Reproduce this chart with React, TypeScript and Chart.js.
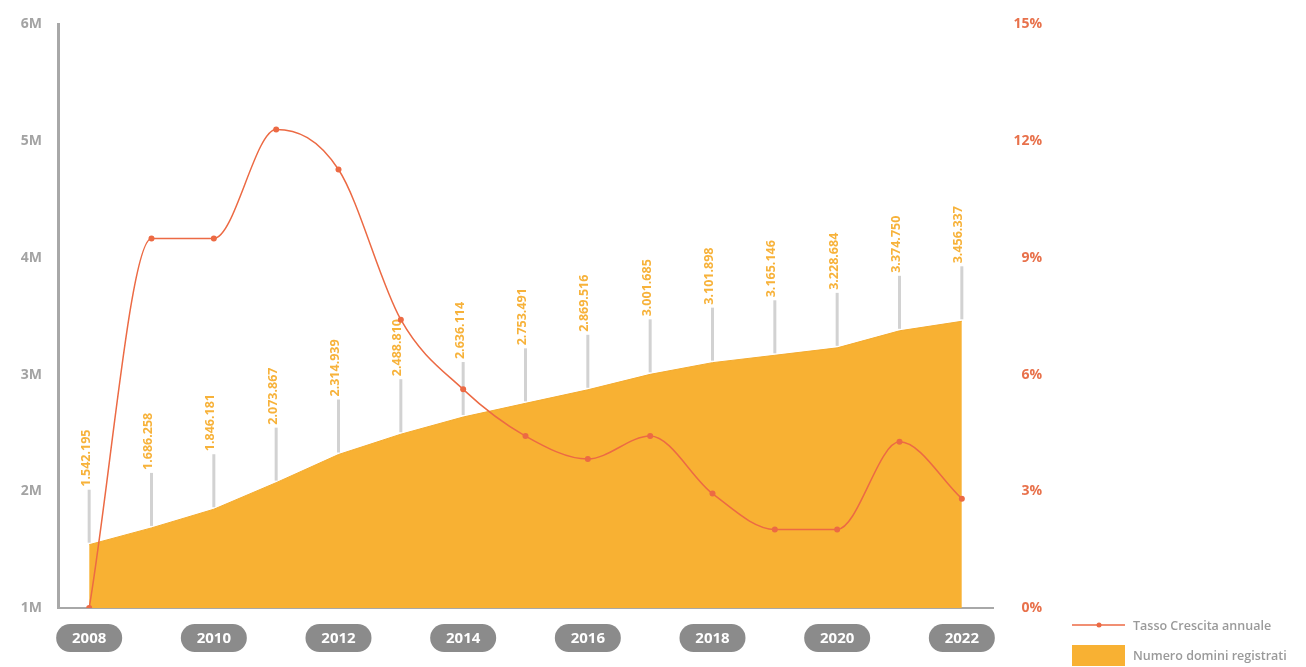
import React, { useEffect, useRef } from "react";
import { Chart, registerables } from "chart.js";
Chart.register(...registerables);

const years = ["2008", "2009", "2010", "2011", "2012", "2013", "2014", "2015", "2016", "2017", "2018", "2019", "2020", "2021", "2022"];
const domainCounts = [1542195, 1686258, 1846181, 2073867, 2314939, 2488810, 2636114, 2753491, 2869516, 3001685, 3101898, 3165146, 3228684, 3374750, 3456337];
const domainLabels = ["1.542.195", "1.686.258", "1.846.181", "2.073.867", "2.314.939", "2.488.810", "2.636.114", "2.753.491", "2.869.516", "3.001.685", "3.101.898", "3.165.146", "3.228.684", "3.374.750", "3.456.337"];
const growthRates = [0, 9.5, 9.5, 12.3, 11.27, 7.41, 5.62, 4.42, 3.83, 4.42, 2.94, 2.02, 2.02, 4.27, 2.81];
const pillYears = ["2008", "2010", "2012", "2014", "2016", "2018", "2020", "2022"];
const legendLabels = ["Tasso Crescita annuale", "Numero domini registrati"];

const LINE_COLOR = "#ec6a44";
const AREA_COLOR = "#f8b133";
const FONT = "'Open Sans', 'DejaVu Sans', sans-serif";

const decorPlugin = {
  id: "decor",
  beforeDatasetsDraw(chart: any) {
    const ctx = chart.ctx;
    const meta = chart.getDatasetMeta(1);
    ctx.save();
    meta.data.forEach((pt: any, i: number) => {
      const x = pt.x;
      const y0 = pt.y - 2;
      const y1 = y0 - 53;
      ctx.strokeStyle = "#d2d2d2";
      ctx.lineWidth = 3;
      ctx.beginPath();
      ctx.moveTo(x, y0);
      ctx.lineTo(x, y1);
      ctx.stroke();
      ctx.save();
      ctx.translate(x - 3, y1 - 3);
      ctx.rotate(-Math.PI / 2);
      ctx.fillStyle = "#f7b23a";
      ctx.font = `bold 12.5px ${FONT}`;
      ctx.textAlign = "left";
      ctx.textBaseline = "middle";
      ctx.fillText(domainLabels[i], 0, 0);
      ctx.restore();
    });
    ctx.restore();
  },
  afterDraw(chart: any) {
    const ctx = chart.ctx;
    const xs = chart.scales.x;
    ctx.save();
    pillYears.forEach((yr) => {
      const idx = years.indexOf(yr);
      const cx = xs.getPixelForValue(idx);
      const cy = 638;
      const w = 66, h = 28, r = 14;
      ctx.fillStyle = "#8b8b8b";
      ctx.beginPath();
      ctx.roundRect(cx - w / 2, cy - h / 2, w, h, r);
      ctx.fill();
      ctx.fillStyle = "#ffffff";
      ctx.font = `bold 15px ${FONT}`;
      ctx.textAlign = "center";
      ctx.textBaseline = "middle";
      ctx.fillText(yr, cx, cy + 1);
    });
    ctx.strokeStyle = LINE_COLOR;
    ctx.lineWidth = 1.5;
    ctx.beginPath();
    ctx.moveTo(1072, 625);
    ctx.lineTo(1125, 625);
    ctx.stroke();
    ctx.fillStyle = LINE_COLOR;
    ctx.beginPath();
    ctx.arc(1099, 625, 2.5, 0, Math.PI * 2);
    ctx.fill();
    ctx.fillStyle = AREA_COLOR;
    ctx.fillRect(1072, 645, 53, 21);
    ctx.fillStyle = "#9a9a9a";
    ctx.font = `600 12.5px ${FONT}`;
    ctx.textAlign = "left";
    ctx.textBaseline = "middle";
    ctx.fillText(legendLabels[0], 1133, 626);
    ctx.fillText(legendLabels[1], 1133, 656);
    ctx.restore();
  },
};

export default function App() {
  const ref = useRef<HTMLCanvasElement | null>(null);
  useEffect(() => {
    document.body.style.margin = "0";
    document.body.style.background = "#ffffff";
    const chart = new Chart(ref.current!, {
      type: "line",
      data: {
        labels: years,
        datasets: [
          {
            label: legendLabels[0],
            data: growthRates,
            yAxisID: "y1",
            borderColor: LINE_COLOR,
            backgroundColor: LINE_COLOR,
            borderWidth: 1.5,
            pointRadius: 3,
            pointBackgroundColor: LINE_COLOR,
            pointBorderWidth: 0,
            cubicInterpolationMode: "monotone",
            fill: false,
          },
          {
            label: legendLabels[1],
            data: domainCounts,
            yAxisID: "y",
            borderColor: "#f3ab2f",
            borderWidth: 1,
            backgroundColor: AREA_COLOR,
            pointRadius: 0,
            tension: 0,
            fill: "start",
          },
        ],
      },
      options: {
        responsive: false,
        animation: false,
        layout: { padding: { top: 20, bottom: 59, left: 0, right: 1306 - 1042 } },
        plugins: { legend: { display: false }, tooltip: { enabled: false } },
        scales: {
          x: {
            offset: true,
            grid: { display: false, drawTicks: false },
            border: { display: true, color: "#a8a8a8", width: 2 },
            ticks: { display: false },
          },
          y: {
            position: "left",
            min: 1000000,
            max: 6000000,
            afterFit: (s: any) => { s.width = 58; },
            grid: { display: false, drawTicks: false },
            border: { display: true, color: "#a8a8a8", width: 3 },
            ticks: {
              stepSize: 1000000,
              padding: 16,
              color: "#a3a3a3",
              font: { family: FONT, size: 14, weight: "bold" },
              callback: (v: any) => `${Number(v) / 1000000}M`,
            },
          },
          y1: {
            position: "right",
            min: 0,
            max: 15,
            afterFit: (s: any) => { s.width = 1042 - 993; },
            grid: { display: false, drawTicks: false },
            border: { display: false },
            ticks: {
              stepSize: 3,
              padding: 15,
              crossAlign: "far",
              color: "#e8714b",
              font: { family: FONT, size: 14, weight: "bold" },
              callback: (v: any) => `${v}%`,
            },
          },
        },
      },
      plugins: [decorPlugin],
    } as any);
    return () => chart.destroy();
  }, []);
  return (
    <div style={{ width: 1306, height: 667 }}>
      <canvas ref={ref} width={1306} height={667} style={{ display: "block" }} />
    </div>
  );
}
